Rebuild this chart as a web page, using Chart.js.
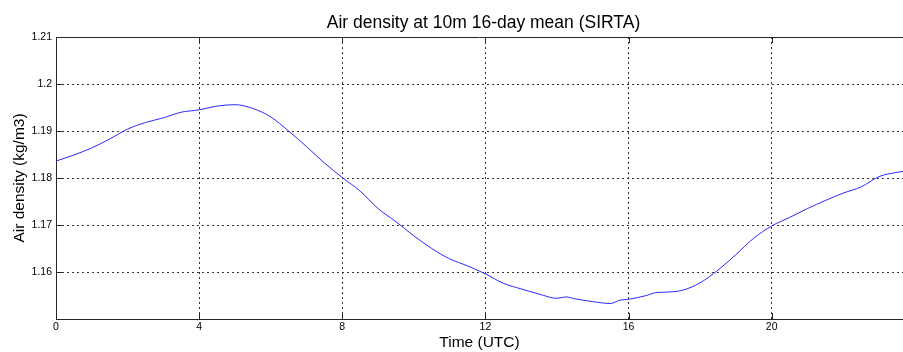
<!DOCTYPE html>
<html>
<head>
<meta charset="utf-8">
<title>Air density at 10m 16-day mean (SIRTA)</title>
<script src="https://cdn.jsdelivr.net/npm/chart.js@4.4.1/dist/chart.umd.min.js"></script>
<style>
  html, body { margin: 0; padding: 0; background: #fff; }
  #wrap { width: 903px; height: 352px; position: relative; }
</style>
</head>
<body>
<div id="wrap"><canvas id="myChart"></canvas></div>
<script>
var chartTitle = 'Air density at 10m 16-day mean (SIRTA)';
// hours (UTC)
var hours = [0, 0.5, 1, 1.5, 2, 2.5, 3, 3.5, 4, 4.5, 5, 5.5, 6, 6.5, 7, 7.5, 8, 8.5, 9, 9.5,
             10, 10.5, 11, 11.5, 12, 12.5, 13, 13.5, 14, 14.25, 14.5, 15, 15.5, 15.75, 16, 16.5,
             16.75, 17, 17.5, 18, 18.5, 19, 19.5, 20, 20.5, 21, 21.5, 22, 22.5, 23, 23.5, 23.67];
// air density (kg/m3)
var density = [1.1836, 1.1849, 1.1864, 1.1883, 1.1904, 1.1918, 1.1928, 1.1940, 1.1945, 1.1953,
               1.1956, 1.1948, 1.1930, 1.1900, 1.1867, 1.1832, 1.1801, 1.1772, 1.1735, 1.1707,
               1.1677, 1.1650, 1.1628, 1.1613, 1.1596, 1.1576, 1.1564, 1.1553, 1.1544, 1.1547,
               1.1543, 1.1537, 1.1533, 1.1540, 1.1542, 1.1550, 1.1556, 1.1557, 1.1561, 1.1577,
               1.1604, 1.1637, 1.1672, 1.1698, 1.1716, 1.1735, 1.1752, 1.1768, 1.1781, 1.1803,
               1.1812, 1.1814];
var xTicks = [0, 4, 8, 12, 16, 20];
var yTicks = [1.15, 1.16, 1.17, 1.18, 1.19, 1.2, 1.21];

var points = hours.map(function(h, i){ return {x: h, y: density[i]}; });

// box top line + inward tick marks + title over the axes (matlab style)
var boxPlugin = {
    id: 'box',
    afterDraw: function(chart){
        var ctx = chart.ctx, a = chart.chartArea;
        var xs = chart.scales.x, ys = chart.scales.y;
        ctx.save();
        ctx.strokeStyle = '#262626';
        ctx.lineWidth = 1;
        ctx.beginPath();
        ctx.moveTo(a.left, a.top + 0.5);
        ctx.lineTo(a.right, a.top + 0.5);
        xTicks.forEach(function(t){
            var px = Math.round(xs.getPixelForValue(t)) + 0.5;
            ctx.moveTo(px, a.bottom); ctx.lineTo(px, a.bottom - 6);
            ctx.moveTo(px, a.top); ctx.lineTo(px, a.top + 6);
        });
        yTicks.forEach(function(t){
            var py = Math.round(ys.getPixelForValue(t)) + 0.5;
            ctx.moveTo(a.left, py); ctx.lineTo(a.left + 6, py);
        });
        ctx.stroke();

        ctx.fillStyle = '#000';
        ctx.font = '17.5px "Liberation Sans", Arial, sans-serif';
        ctx.textAlign = 'center';
        ctx.textBaseline = 'alphabetic';
        ctx.fillText(chartTitle, (a.left + a.right) / 2 + 4, 28);
        ctx.restore();
    }
};

var chartData = {
    type: 'line',
    data: {
        datasets: [{
            label: 'density',
            data: points,
            borderColor: 'rgb(40, 40, 255)',
            borderWidth: 1,
            pointRadius: 0,
            fill: false,
            cubicInterpolationMode: 'monotone'
        }]
    },
    options: {
        responsive: true,
        maintainAspectRatio: false,
        animation: false,
        layout: { padding: { top: 37 } },
        plugins: {
            legend: { display: false },
            tooltip: { enabled: false },
            title: { display: false }
        },
        scales: {
            x: {
                type: 'linear',
                min: 0,
                max: 23.67,
                afterBuildTicks: function(s){ s.ticks = xTicks.map(function(v){ return {value: v}; }); },
                afterFit: function(s){ s.height = 33; },
                ticks: {
                    color: '#000',
                    font: { family: 'Liberation Sans, Arial, sans-serif', size: 10.5 },
                    padding: 2,
                    maxRotation: 0,
                    autoSkip: false
                },
                grid: {
                    color: '#333',
                    lineWidth: 1,
                    drawTicks: false
                },
                border: { display: true, color: '#262626', dash: [2, 3], width: 1 },
                title: {
                    display: true,
                    text: 'Time (UTC)',
                    color: '#000',
                    font: { family: 'Liberation Sans, Arial, sans-serif', size: 15.5, lineHeight: 1.2 },
                    padding: { top: 0, bottom: 0 }
                }
            },
            y: {
                min: 1.15,
                max: 1.21,
                afterBuildTicks: function(s){ s.ticks = yTicks.map(function(v){ return {value: v}; }); },
                afterFit: function(s){ s.width = 56; },
                ticks: {
                    color: '#000',
                    font: { family: 'Liberation Sans, Arial, sans-serif', size: 10.5 },
                    padding: 4,
                    callback: function(v){
                        if (Math.abs(v - 1.15) < 1e-6) return '';
                        return String(Number(v.toFixed(2)));
                    }
                },
                grid: {
                    color: '#333',
                    lineWidth: 1,
                    drawTicks: false
                },
                border: { display: true, color: '#262626', dash: [2, 3], width: 1 },
                title: {
                    display: true,
                    text: 'Air density (kg/m3)',
                    color: '#000',
                    font: { family: 'Liberation Sans, Arial, sans-serif', size: 15.5, lineHeight: 1.2 },
                    padding: { top: 10, bottom: 0 }
                }
            }
        }
    },
    plugins: [boxPlugin]
};

var chartArea = document.getElementById('myChart').getContext('2d');
var myChart = new Chart(chartArea, chartData);
</script>
</body>
</html>
